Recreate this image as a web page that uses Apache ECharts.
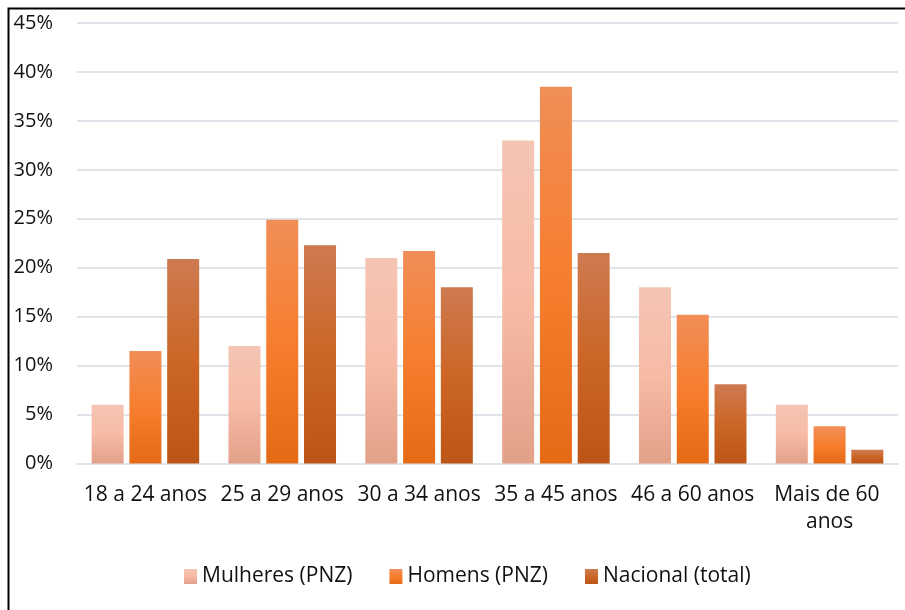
<!DOCTYPE html>
<html>
<head>
<meta charset="utf-8">
<title>Faixa etária</title>
<script src="https://cdn.jsdelivr.net/npm/echarts@6/dist/echarts.min.js"></script>
<style>
  html, body { margin: 0; padding: 0; background: #ffffff; }
  #chart { width: 905px; height: 610px; }
</style>
</head>
<body>
<div id="chart"></div>
<script>
// Age groups on the category axis
const categories = ['18 a 24 anos', '25 a 29 anos', '30 a 34 anos', '35 a 45 anos', '46 a 60 anos', 'Mais de 60 anos'];

// Share of each group, in percent
const mulheresPNZ = [6.0, 12.0, 21.0, 33.0, 18.0, 6.0];
const homensPNZ = [11.5, 24.9, 21.7, 38.5, 15.2, 3.8];
const nacionalTotal = [20.9, 22.3, 18.0, 21.5, 8.1, 1.4];

const seriesNames = ['Mulheres (PNZ)', 'Homens (PNZ)', 'Nacional (total)'];

// Value axis ticks
const yMin = 0, yMax = 45, yStep = 5;

const FONT = '"Open Sans", "Liberation Sans", sans-serif';

function vGrad(top, mid, bottom) {
  return new echarts.graphic.LinearGradient(0, 0, 0, 1, [
    { offset: 0, color: top },
    { offset: 0.5, color: mid },
    { offset: 1, color: bottom }
  ]);
}

const fills = [
  vGrad('#f4c5b3', '#f7bba6', '#e2a088'),
  vGrad('#f18e58', '#f67e2e', '#e46a16'),
  vGrad('#ce7a51', '#cc6626', '#bc5516')
];

const chart = echarts.init(document.getElementById('chart'), null, { renderer: 'canvas' });

chart.setOption({
  animation: false,
  backgroundColor: '#ffffff',
  textStyle: { fontFamily: FONT },
  grid: { left: 77, right: 7, top: 23, bottom: 146.5, containLabel: false },
  legend: {
    left: 179,
    top: 561,
    itemWidth: 13,
    itemHeight: 15,
    itemGap: 37,
    icon: 'rect',
    textStyle: { fontFamily: FONT, fontSize: 21, color: '#111111' },
    data: seriesNames
  },
  xAxis: {
    type: 'category',
    data: categories,
    axisLine: { show: true, lineStyle: { color: '#dfe3ea', width: 2 } },
    axisTick: { show: false },
    axisLabel: {
      fontFamily: FONT,
      fontSize: 21,
      color: '#111111',
      margin: 18,
      width: 132,
      overflow: 'break',
      lineHeight: 27,
      interval: 0
    }
  },
  yAxis: {
    type: 'value',
    min: yMin,
    max: yMax,
    interval: yStep,
    axisLine: { show: false },
    axisTick: { show: false },
    splitLine: { show: true, lineStyle: { color: '#dfe3ea', width: 2 } },
    axisLabel: {
      fontFamily: FONT,
      fontSize: 20,
      color: '#111111',
      margin: 24,
      formatter: '{value}%'
    }
  },
  series: [
    { name: seriesNames[0], type: 'bar', data: mulheresPNZ, barWidth: 32, barGap: '18%', itemStyle: { color: fills[0] } },
    { name: seriesNames[1], type: 'bar', data: homensPNZ, barWidth: 32, barGap: '18%', itemStyle: { color: fills[1] } },
    { name: seriesNames[2], type: 'bar', data: nacionalTotal, barWidth: 32, barGap: '18%', itemStyle: { color: fills[2] } }
  ],
  graphic: [
    {
      type: 'rect',
      shape: { x: 8.5, y: 8.5, width: 1200, height: 1200 },
      style: { fill: 'none', stroke: '#000000', lineWidth: 2 },
      silent: true,
      z: 100
    }
  ]
});
</script>
</body>
</html>
